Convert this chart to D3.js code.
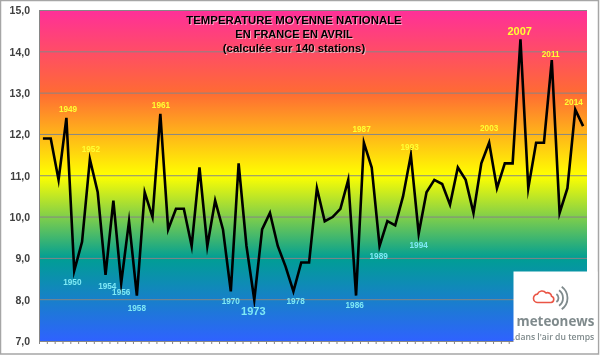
<!DOCTYPE html>
<html><head><meta charset="utf-8">
<script src="https://cdnjs.cloudflare.com/ajax/libs/d3/7.8.5/d3.min.js"></script>
<style>html,body{margin:0;padding:0;background:#fff;overflow:hidden}svg{display:block;filter:blur(0.3px)}text{font-family:"Liberation Sans",Arial,sans-serif}</style>
</head><body><svg id="c" width="600" height="355"></svg>
<script>
const years = d3.range(1946, 2016);
const temps = [11.9,11.9,10.9,12.4,8.7,9.4,11.4,10.6,8.6,10.4,8.4,9.9,8.1,10.6,10.0,12.5,9.7,10.2,10.2,9.3,11.2,9.3,10.4,9.7,8.2,11.3,9.3,8.0,9.7,10.1,9.3,8.8,8.2,8.9,8.9,10.7,9.9,10.0,10.2,10.9,8.1,11.8,11.2,9.3,9.9,9.8,10.5,11.5,9.6,10.6,10.9,10.8,10.3,11.2,10.9,10.1,11.3,11.8,10.7,11.3,11.3,14.3,10.7,11.8,11.8,13.8,10.1,10.7,12.6,12.2];
const yTicks = [7,8,9,10,11,12,13,14,15];
const warmLabels = [[1949,1.6,-5.5,8.2],[1952,1,-7.7,8.2],[1961,0.6,-5.4,8.2],[1987,-2.3,-10.8,8.2],[1993,-1.2,-5.5,8.2],[2003,0,-11.3,8.2],[2007,-0.8,-4,11],[2011,-1.1,-3.2,8.2],[2014,-1.6,-4.2,8.2]];
const coldLabels = [[1950,-1.9,14.7,8.2],[1954,1.7,13.6,8.2],[1956,0,12.3,8.2],[1958,0,15,8.2],[1970,0,12.4,8.2],[1973,-1,15.8,11],[1978,2.2,12.6,8.2],[1986,-1.4,12.9,8.2],[1989,-0.9,12.8,8.2],[1994,0,14.6,8.2]];
const titleLines = ["TEMPERATURE MOYENNE NATIONALE","EN FRANCE EN AVRIL","(calculée sur 140 stations)"];
const titleSizes = [11.4,11,11.4];
const gradientStops = [[0,"#ff2f99"],[0.25,"#ff6b33"],[0.5,"#ffff00"],[0.75,"#009e94"],[1,"#2f62ff"]];

const svg = d3.select("#c");
const M = {l:39,r:587,t:10.5,b:341};
const x = d3.scaleBand().domain(years).range([M.l,M.r]);
const y = d3.scaleLinear().domain([7,15]).range([M.b,M.t]);
const cx = yr => x(yr)+x.bandwidth()/2;
const valueOf = yr => temps[years.indexOf(yr)];

svg.append("rect").attr("x",0.5).attr("y",0.5).attr("width",598).attr("height",353.5)
  .attr("fill","#fff").attr("stroke","#a6a6a6").attr("stroke-width",1.5);

const g = svg.append("defs").append("linearGradient").attr("id","bg").attr("x1",0).attr("x2",0).attr("y1",0).attr("y2",1);
g.selectAll("stop").data(gradientStops).join("stop").attr("offset",d=>d[0]).attr("stop-color",d=>d[1]);
svg.append("rect").attr("x",M.l).attr("y",M.t).attr("width",M.r-M.l).attr("height",M.b-M.t).attr("fill","url(#bg)");

svg.append("g").selectAll("line").data(yTicks.slice(1)).join("line")
  .attr("x1",M.l).attr("x2",M.r).attr("y1",d=>y(d)).attr("y2",d=>y(d))
  .attr("stroke","#868686").attr("stroke-width",1);

const yAxis = d3.axisLeft(y).tickValues(yTicks).tickSize(0).tickFormat(d=>d3.format(".1f")(d).replace(".",","));
const ya = svg.append("g").attr("transform",`translate(${M.l},0)`).call(yAxis);
ya.select(".domain").attr("stroke","#868686");
ya.selectAll("text").attr("font-size",10.5).attr("font-weight","bold").attr("fill","#404040").attr("x",-9);

const xAxis = d3.axisBottom(d3.scaleLinear().domain([0,70]).range([M.l,M.r])).tickValues(d3.range(0,71)).tickSize(3).tickFormat("");
const xa = svg.append("g").attr("transform",`translate(0,${M.b})`).call(xAxis);
xa.select(".domain").attr("stroke","#868686");
xa.selectAll("line").attr("stroke","#868686");

const line = d3.line().x((d,i)=>cx(years[i])).y(d=>y(d));
svg.append("path").attr("d",line(temps)).attr("fill","none").attr("stroke","#000").attr("stroke-width",2.6).attr("stroke-linejoin","miter").attr("stroke-miterlimit",10);

function labels(arr,col){
  svg.append("g").selectAll("text").data(arr).join("text")
    .attr("x",d=>cx(d[0])+d[1]).attr("y",d=>y(valueOf(d[0]))+d[2]).attr("text-anchor","middle")
    .attr("font-size",d=>d[3]).attr("font-weight","bold").attr("fill",col).text(d=>d[0]);
}
labels(warmLabels,"#ffff33");
labels(coldLabels,"#7fe9f5");

svg.append("g").style("filter","drop-shadow(1px 1px 0 rgba(255,255,255,0.55))")
  .selectAll("text").data(titleLines).join("text")
  .attr("x",294).attr("y",(d,i)=>24+i*14).attr("text-anchor","middle")
  .attr("font-size",(d,i)=>titleSizes[i]).attr("font-weight","bold").attr("fill","#000").text(d=>d);

// logo panel
svg.append("rect").attr("x",513.5).attr("y",271.5).attr("width",84).attr("height",81.5).attr("fill","#fff");
const logo = svg.append("g");
logo.append("path").attr("d","M538 302.5a4.2 4.2 0 0 1 -0.6 -8.4a5 5 0 0 1 8.6 -1.2a4.2 4.2 0 0 1 5.6 3.4a3.2 3.2 0 0 1 -0.6 6.2z")
  .attr("fill","none").attr("stroke","#ea5545").attr("stroke-width",1.6);
logo.append("g").selectAll("path").data([5,9.5,14]).join("path")
  .attr("d",r=>d3.arc()({innerRadius:r,outerRadius:r,startAngle:Math.PI*0.2,endAngle:Math.PI*0.8}))
  .attr("transform","translate(553.5,298)").attr("fill","none").attr("stroke","#7f8a8c").attr("stroke-width",1.8);
logo.append("text").attr("x",555.5).attr("y",326).attr("text-anchor","middle").attr("font-size",13.4).attr("font-weight",700)
  .style("font-family","'Open Sans'").attr("fill","#7f8a8c").text("meteonews");
logo.append("text").attr("x",553.5).attr("y",339.5).attr("text-anchor","middle").attr("font-size",8.6).attr("font-weight",600)
  .style("font-family","'Open Sans'").attr("fill","#7f8a8c").text(".dans l'air du temps");
</script></body></html>
